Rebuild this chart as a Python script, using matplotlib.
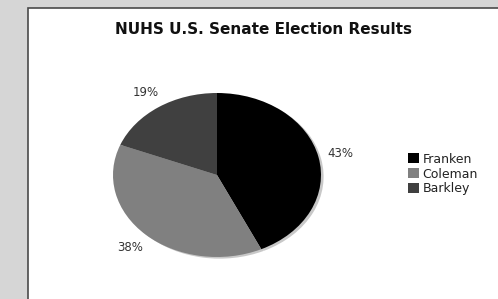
import matplotlib
matplotlib.use("Agg")
import matplotlib.pyplot as plt
from matplotlib.patches import Rectangle

title = "NUHS U.S. Senate Election Results"
candidates = ["Franken", "Coleman", "Barkley"]
shares = [43, 38, 19]
colors = ["#000000", "#808080", "#404040"]

W, H = 498, 299
fig = plt.figure(figsize=(W / 100, H / 100), dpi=100)
fig.patch.set_facecolor("#d6d6d6")

# white panel with a dark frame, running off the right/bottom edges
panel = Rectangle((27.5 / W, -0.05), 1.0, (H - 8) / H + 0.05,
                  transform=fig.transFigure, facecolor="white",
                  edgecolor="#4a4a4a", linewidth=1.2, zorder=-5)
fig.patches.append(panel)

fig.text(263 / W, 1 - 29 / H, title, ha="center", va="center",
         fontsize=11, fontweight="bold", color="#111111")

ax = fig.add_axes([113 / W, 42 / H, 208 / W, 164 / H])
ax.set_zorder(2)

# soft shadow under the pie
ax.pie(shares, colors=["#c8c8c8"] * 3, startangle=90, counterclock=False,
       center=(0.025, -0.02), wedgeprops=dict(linewidth=0))
wedges, _, pcts = ax.pie(shares, colors=colors, startangle=90,
                         counterclock=False, autopct="%.0f%%",
                         pctdistance=1.22,
                         wedgeprops=dict(linewidth=0),
                         textprops=dict(fontsize=8.5, color="#333333"))
ax.set_aspect("auto")
ax.set_xlim(-1, 1)
ax.set_ylim(-1, 1)

fig.legend(wedges, candidates, loc="center left",
           bbox_to_anchor=(402 / W, 1 - 174 / H), frameon=False,
           fontsize=9, handlelength=0.85, handleheight=0.85,
           handletextpad=0.3, labelspacing=0.15, borderpad=0,
           labelcolor="#222222")

fig.savefig("out.png", dpi=100, facecolor=fig.get_facecolor())
